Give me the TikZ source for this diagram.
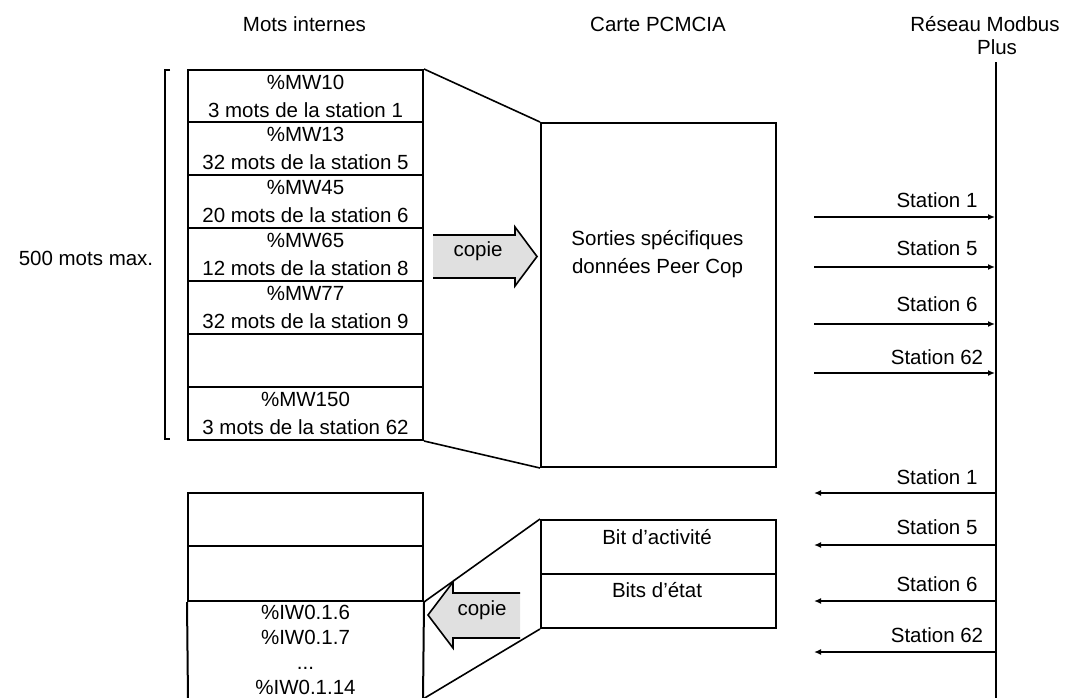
\documentclass[tikz,border=0pt]{standalone}
\usepackage{fontspec}
\setmainfont{Liberation Sans}
\usetikzlibrary{arrows.meta}
\begin{document}
\begin{tikzpicture}[x=1pt,y=-1pt,
  txt/.style={inner sep=0pt, font=\fontsize{20.5}{28}\selectfont, align=center},
  cell/.style={draw, line width=2pt, minimum width=235pt, inner sep=0pt, txt},
  wire/.style={line width=2pt},
  tline/.style={line width=1.6pt},
  tip/.style={-{Latex[length=7pt,width=6pt]}},
  copyarrow/.style={line width=1.6pt, line join=miter},
  copyfill/.style={fill=black!12}
]
\useasboundingbox (0,0) rectangle (1067,697);
\clip (0,0) rectangle (1067,697);

% headers
\node[txt] (h1) at (304.5,24) {Mots internes};
\node[txt] (h2) at (658,24) {Carte PCMCIA};
\node[txt] (h3) at (985,24) {Réseau Modbus};
\node[txt] (h3b) at (997,47) {Plus};

% bracket
\draw[wire] (170,70) -- (165,70) -- (165,439) -- (170,439);
\node[txt] (max) at (86,258) {500 mots max.};

% internal words (top)
\node[cell, minimum height=52pt] (r1) at (305.5,96) {\%MW10\\3 mots de la station 1};
\node[cell, minimum height=53pt] (r2) at (305.5,148.5) {\%MW13\\32 mots de la station 5};
\node[cell, minimum height=53pt] (r3) at (305.5,201.5) {\%MW45\\20 mots de la station 6};
\node[cell, minimum height=53pt] (r4) at (305.5,254.5) {\%MW65\\12 mots de la station 8};
\node[cell, minimum height=53pt] (r5) at (305.5,307.5) {\%MW77\\32 mots de la station 9};
\node[cell, minimum height=53pt] (r6) at (305.5,360.5) {};
\node[cell, minimum height=53pt] (r7) at (305.5,413.5) {\%MW150\\3 mots de la station 62};

% PCMCIA top box
\node[cell, minimum height=344pt] (pc) at (658.5,295) {};
\node[txt] (pctext) at (657.5,254) {Sorties spécifiques\\données Peer Cop};

\draw[tline] (r1.north east) -- (pc.north west);
\draw[tline] (r7.south east) -- (pc.south west);

% copie arrow (top)
\fill[copyfill] (433,235) -- (515,235) -- (515,227) -- (537,256.5) -- (515,286) -- (515,278) -- (433,278) -- cycle;
\draw[copyarrow] (433,235) -- (515,235) -- (515,227) -- (537,256.5) -- (515,286) -- (515,278) -- (433,278);
\node[txt] (copie1) at (478,251) {copie};

% internal words (bottom)
\node[cell, minimum height=53pt] (b1) at (305.5,519.5) {};
\node[cell, minimum height=55pt] (b2) at (305.5,573.5) {};
\coordinate (b3l) at (188,700);
\coordinate (b3r) at (423,700);
\draw[wire] (b2.south west) -- (b3l);
\draw[wire] (b2.south east) -- (b3r);
\node[txt, anchor=base] (iw6) at (305.5,619) {\%IW0.1.6};
\node[txt, anchor=base] (iw7) at (305.5,644) {\%IW0.1.7};
\node[txt, anchor=base] (iwd) at (305.5,669) {...};
\node[txt, anchor=base] (iw14) at (305.5,694) {\%IW0.1.14};

% PCMCIA bottom boxes
\node[cell, minimum height=54pt] (ba) at (658.5,547) {};
\node[cell, minimum height=54pt] (bb) at (658.5,601) {};
\node[txt] (batext) at (657,537) {Bit d’activité};
\node[txt] (bbtext) at (657,590) {Bits d’état};

\coordinate (bend) at (423,699);
\draw[tline] (b2.south east) -- (ba.north west);
\draw[tline] (bb.south west) -- (bend);

% copie arrow (bottom)
\fill[copyfill] (520,593) -- (453,593) -- (453,582) -- (428,615) -- (453,648) -- (453,638) -- (520,638) -- cycle;
\draw[copyarrow] (520,593) -- (453,593) -- (453,582) -- (428,615) -- (453,648) -- (453,638) -- (520,638);
\node[txt] (copie2) at (482,610) {copie};

% network line
\coordinate (nt) at (996,62);
\coordinate (nb) at (996,700);
\draw[wire] (nt) -- (nb);

% outgoing stations (to network)
\foreach \n/\ly/\ty/\lab in {o1/217/200/Station 1, o5/267/248/Station 5, o6/324/304/Station 6, o62/373/357/Station 62}{
  \coordinate (\n s) at (814,\ly);
  \coordinate (\n e) at (995,\ly);
  \draw[wire, tip] (\n s) -- (\n e);
  \node[txt] (\n t) at (937,\ty) {\lab};
}
% incoming stations (from network)
\foreach \n/\ly/\ty/\lab in {i1/493/477/Station 1, i5/545/527/Station 5, i6/601/584/Station 6, i62/652/635/Station 62}{
  \coordinate (\n s) at (996,\ly);
  \coordinate (\n e) at (814,\ly);
  \draw[wire, tip] (\n s) -- (\n e);
  \node[txt] (\n t) at (937,\ty) {\lab};
}
\end{tikzpicture}
\end{document}
